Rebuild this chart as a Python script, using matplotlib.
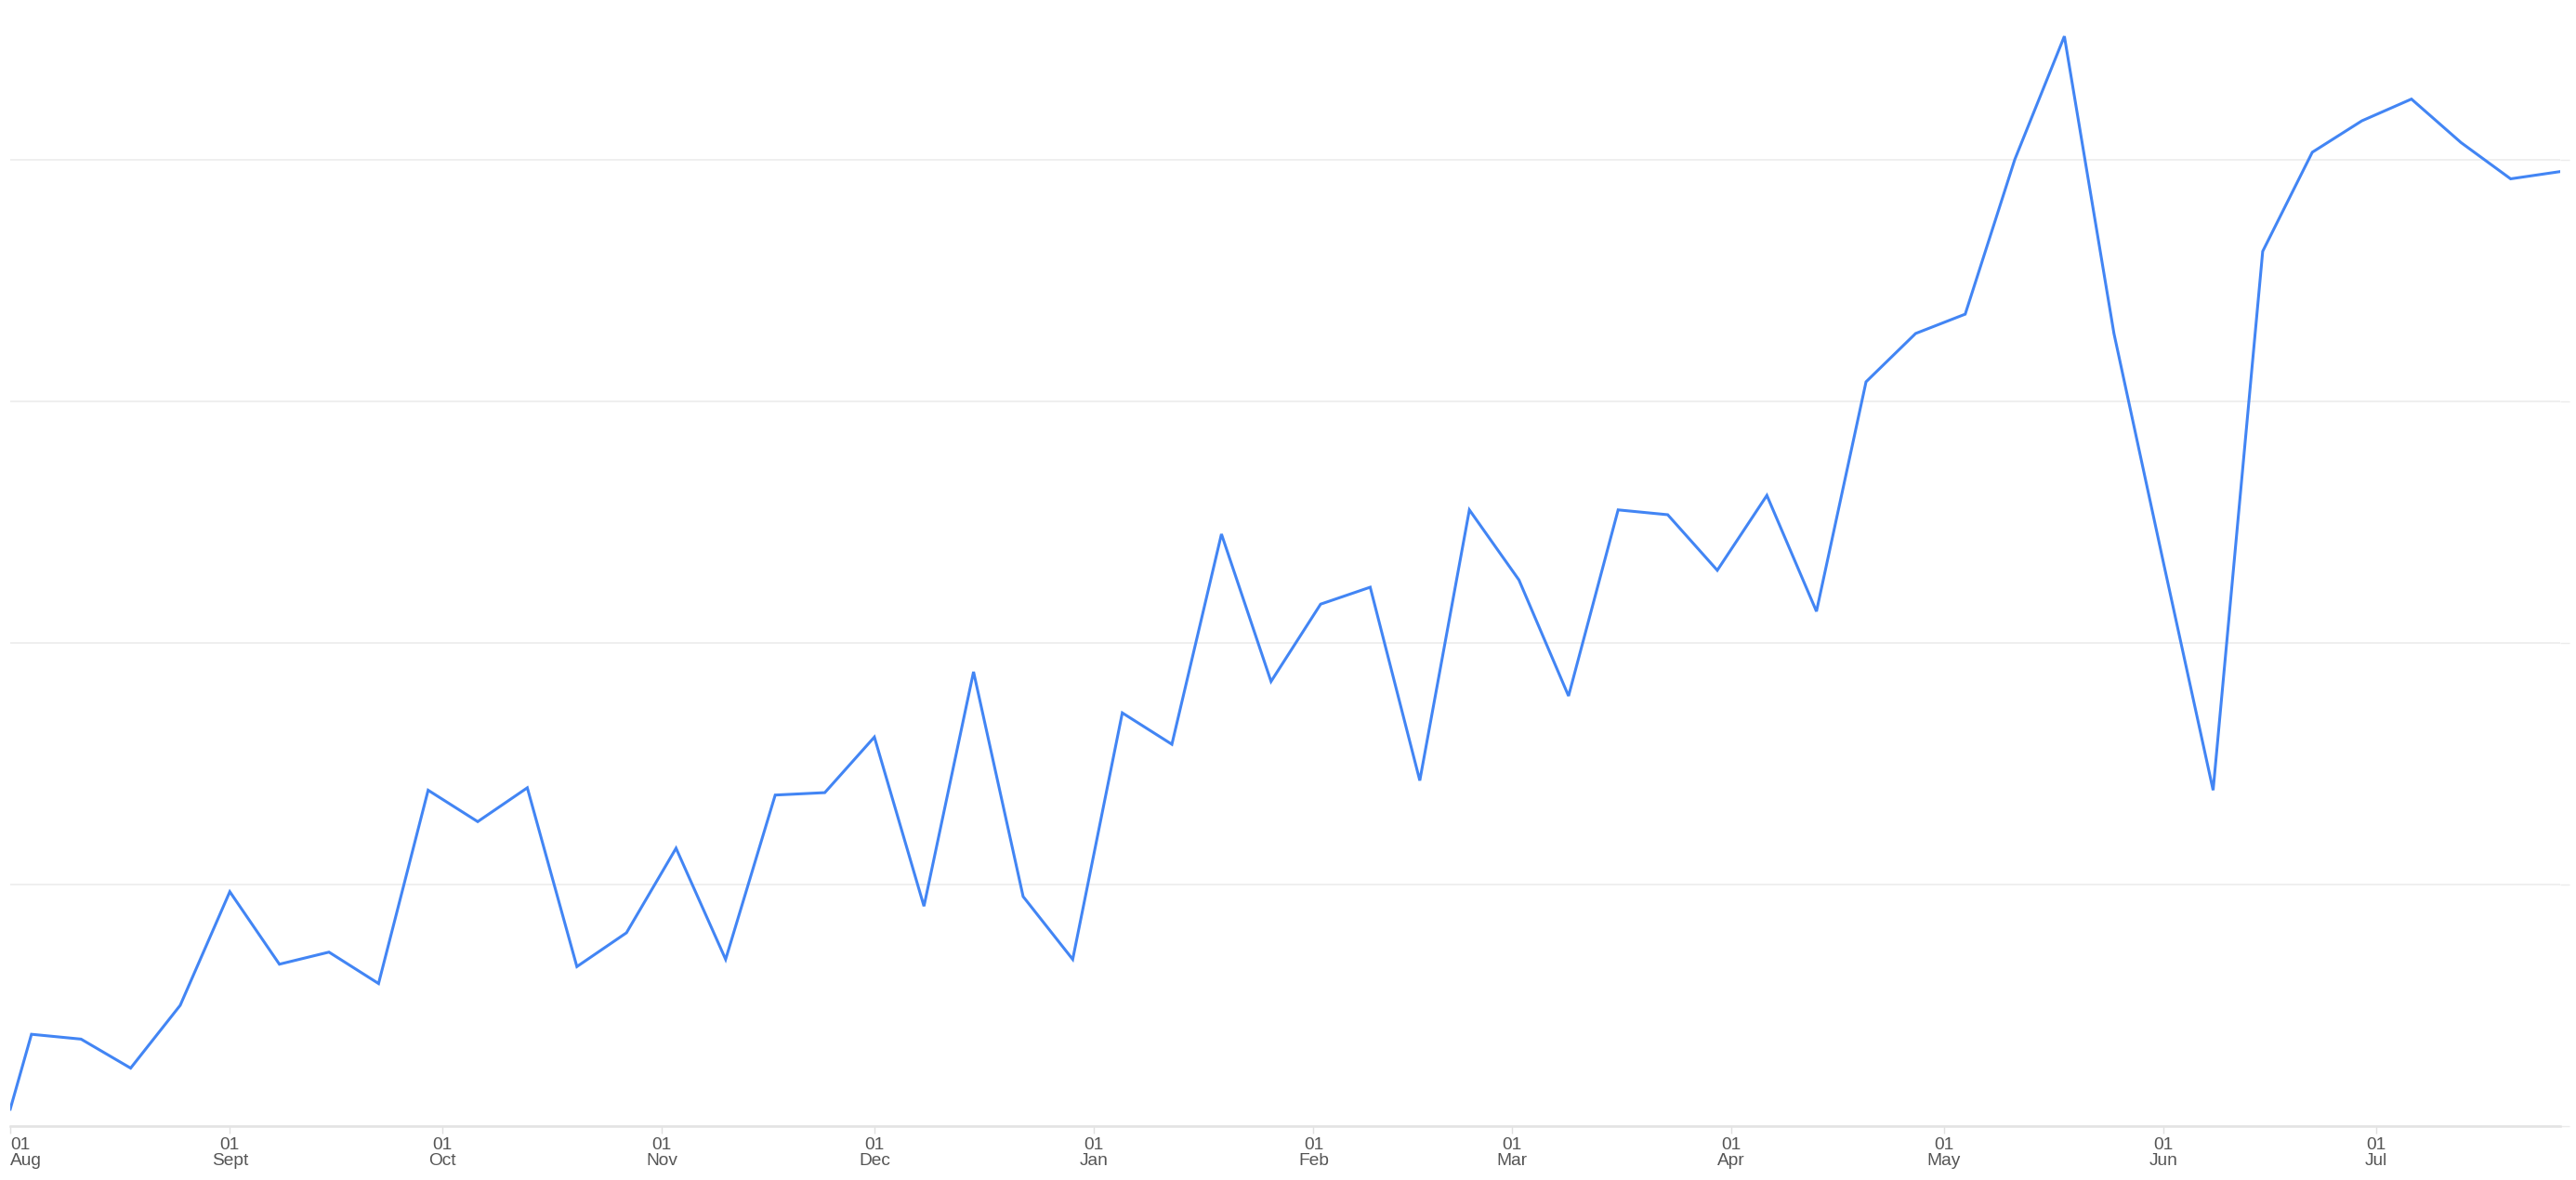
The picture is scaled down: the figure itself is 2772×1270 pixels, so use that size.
import pandas as pd
import matplotlib.pyplot as plt

plt.rcParams['font.family'] = ['Liberation Sans', 'DejaVu Sans']

# weekly series, first sample on the 1st of the month
dates = [pd.Timestamp('2018-08-01')] + list(pd.date_range('2018-08-04', periods=52, freq='7D'))
values = [7, 38, 36, 24, 50, 97, 67, 72, 59, 139,
          126, 140, 66, 80, 115, 69, 137, 138, 161, 91,
          188, 95, 69, 171, 158, 245, 184, 216, 223, 143,
          255, 226, 178, 255, 253, 230, 261, 213, 308, 328,
          336, 400, 451, 328, 233, 139, 362, 403, 416, 425,
          407, 392, 395]

month_ticks = pd.date_range('2018-08-01', '2019-07-01', freq='MS')
month_names = ['Aug', 'Sept', 'Oct', 'Nov', 'Dec', 'Jan',
               'Feb', 'Mar', 'Apr', 'May', 'Jun', 'Jul']
tick_labels = ['01\n' + m for m in month_names]
grid_levels = [0, 100, 200, 300, 400]

W, H, DPI = 2772, 1270, 100
fig = plt.figure(figsize=(W / DPI, H / DPI), dpi=DPI)
ax = fig.add_axes([11 / W, 58 / H, 2744 / W, 1 - 58 / H])

ax.plot(dates, values, color='#4285f4', linewidth=2.2, solid_joinstyle='miter')

ax.set_xlim(dates[0], dates[-1])
ax.set_ylim(0, 466)

# x axis: light baseline with month ticks
ax.set_xticks(month_ticks)
ax.set_xticklabels(tick_labels, fontsize=13.8, color='#555555', linespacing=0.98)
ax.tick_params(axis='x', direction='out', length=5.8, width=1.0, color='#e0e0e0', pad=3)
first = ax.get_xticklabels()[0]
first.set_horizontalalignment('left')
first.set_multialignment('left')

# y axis: no labels, only faint grid + small ticks on the right
ax.set_yticks(grid_levels)
ax.yaxis.set_ticks_position('right')
ax.tick_params(axis='y', direction='out', length=7, width=1.0, color='#ebebeb', labelright=False, labelleft=False)
ax.grid(axis='y', color='#ebebeb', linewidth=1.1)
ax.set_axisbelow(True)

for side in ['top', 'right', 'left']:
    ax.spines[side].set_visible(False)
ax.spines['bottom'].set_color('#e3e3e3')
ax.spines['bottom'].set_linewidth(1.8)

fig.savefig('out.png', dpi=DPI)
